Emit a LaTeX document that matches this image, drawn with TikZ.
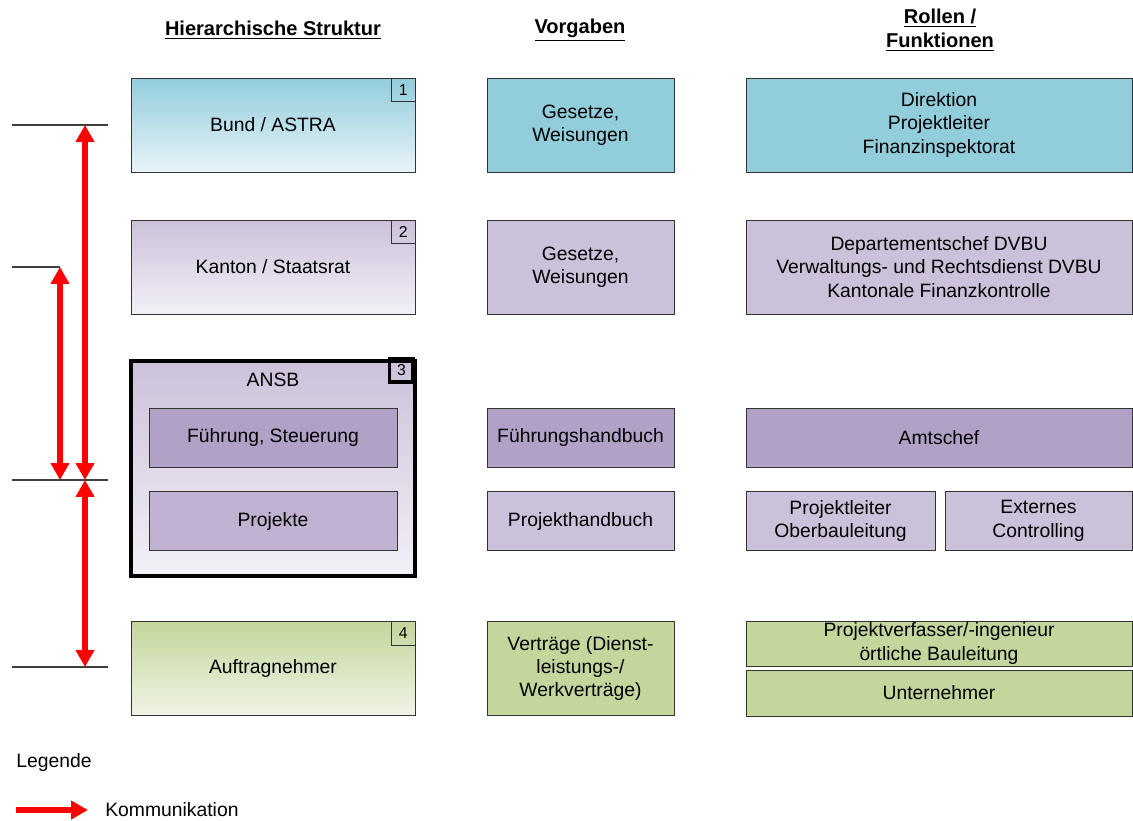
\documentclass[tikz,border=0pt]{standalone}
\usepackage{fontspec}
\setmainfont{Liberation Sans}
\usetikzlibrary{arrows.meta}

\definecolor{bundblau}{RGB}{146,205,220}
\definecolor{bundhell}{RGB}{232,244,248}
\definecolor{kantonlila}{RGB}{204,193,218}
\definecolor{kantonhell}{RGB}{243,240,247}
\definecolor{fuehrlila}{RGB}{178,161,199}
\definecolor{projlila}{RGB}{193,178,210}
\definecolor{vertraggruen}{RGB}{195,214,155}
\definecolor{vertraghell}{RGB}{240,244,230}
\definecolor{pfeilrot}{RGB}{255,0,0}

\begin{document}
\begin{tikzpicture}[x=0.02cm, y=-0.02cm, font=\fontsize{11}{13.3}\selectfont,
  box/.style={draw=black!80, inner sep=1pt, align=center},
  col1/.style={box, minimum width=5.68cm, minimum height=1.88cm},
  col2/.style={box, minimum width=3.74cm, minimum height=1.88cm},
  col3/.style={box, minimum width=7.72cm, minimum height=1.88cm},
  flach/.style={minimum height=1.18cm},
  numbox/.style={draw=black!80, minimum size=0.47cm, inner sep=0pt, anchor=north east, font=\fontsize{9}{10}\selectfont},
  head/.style={font=\fontsize{11.4}{13.6}\selectfont\bfseries, align=center},
  komm/.style={pfeilrot, line width=3.4pt, {Triangle[length=0.34cm, width=0.36cm]}-{Triangle[length=0.34cm, width=0.36cm]}},
  ebene/.style={black!75, line width=0.6pt}]

\useasboundingbox (0,0) rectangle (1133,821);

% Spaltenkoepfe
\node[head] (h1) at (273,30) {\underline{Hierarchische Struktur}};
\node[head] (h2) at (580,30) {\underline{Vorgaben}};
\node[head] (h3) at (940,30) {\underline{Rollen /}\\\underline{Funktionen}};

% Hierarchische Struktur
\node[col1, top color=bundblau, bottom color=bundhell] (b1) at (273,125) {Bund / ASTRA};
\node[col1, top color=kantonlila, bottom color=kantonhell] (b2) at (273,267) {Kanton / Staatsrat};
\node[col1, minimum height=4.3cm, line width=2.3pt, draw=black, top color=kantonlila, bottom color=kantonhell] (b3) at (273,468.5) {};
\node (ansb) at (273,380) {ANSB};
\node[box, flach, minimum width=4.96cm, fill=fuehrlila] (b3a) at (273,437.5) {Führung, Steuerung};
\node[box, flach, minimum width=4.96cm, fill=projlila] (b3b) at (273,521) {Projekte};
\node[col1, top color=vertraggruen, bottom color=vertraghell] (b4) at (273,668.5) {Auftragnehmer};

\node[numbox] (n1) at (b1.north east) {1};
\node[numbox] (n2) at (b2.north east) {2};
\node[numbox, draw=black, line width=2pt] (n3) at ([shift={(-1.15pt,1.15pt)}]b3.north east) {3};
\node[numbox] (n4) at (b4.north east) {4};

% Vorgaben
\node[col2, fill=bundblau] (v1) at (580.5,125) {Gesetze,\\Weisungen};
\node[col2, fill=kantonlila] (v2) at (580.5,267) {Gesetze,\\Weisungen};
\node[col2, flach, fill=fuehrlila] (v3) at (580.5,437.5) {Führungshandbuch};
\node[col2, flach, fill=kantonlila] (v4) at (580.5,521) {Projekthandbuch};
\node[col2, fill=vertraggruen] (v5) at (580.5,668.5) {Verträge (Dienst-\\leistungs-/\\Werkverträge)};

% Rollen / Funktionen
\node[col3, fill=bundblau] (r1) at (939,125) {Direktion\\Projektleiter\\Finanzinspektorat};
\node[col3, fill=kantonlila] (r2) at (939,267) {Departementschef DVBU\\Verwaltungs- und Rechtsdienst DVBU\\Kantonale Finanzkontrolle};
\node[col3, flach, fill=fuehrlila] (r3) at (939,437.5) {Amtschef};
\node[box, flach, minimum width=3.78cm, fill=kantonlila] (r4) at (840.5,521) {Projektleiter\\Oberbauleitung};
\node[box, flach, minimum width=3.74cm, fill=kantonlila] (r5) at (1038.5,521) {Externes\\Controlling};
\node[col3, minimum height=0.9cm, fill=vertraggruen] (r6) at (939,643.5) {Projektverfasser/-ingenieur\\örtliche Bauleitung};
\node[col3, minimum height=0.92cm, fill=vertraggruen] (r7) at (939,693) {Unternehmer};

% Ebenen links
\coordinate (e1l) at (12,125);  \coordinate (e1r) at (108,125);
\coordinate (e2l) at (12,267);  \coordinate (e2r) at (60,267);
\coordinate (e3l) at (12,480);  \coordinate (e3r) at (108,480);
\coordinate (e4l) at (12,667);  \coordinate (e4r) at (108,667);
\foreach \e in {1,2,3,4}
  \draw[ebene] (e\e l) -- (e\e r);

\coordinate (k1o) at (85,125); \coordinate (k1u) at (85,480);
\coordinate (k2o) at (60,267); \coordinate (k2u) at (60,480);
\coordinate (k3o) at (85,480); \coordinate (k3u) at (85,667);
\begin{scope}[komm]
\draw (k1o) -- (k1u);
\draw (k2o) -- (k2u);
\draw (k3o) -- (k3u);
\end{scope}

% Legende
\node[anchor=west, inner sep=0pt] (leg) at (16,762) {Legende};
\coordinate (la) at (16,810);
\coordinate (lb) at (88,810);
\draw[pfeilrot, line width=3.4pt, -{Triangle[length=0.34cm, width=0.36cm]}] (la) -- (lb);
\node[anchor=west, inner sep=0pt] (kommtext) at (105,810) {Kommunikation};
\end{tikzpicture}
\end{document}
